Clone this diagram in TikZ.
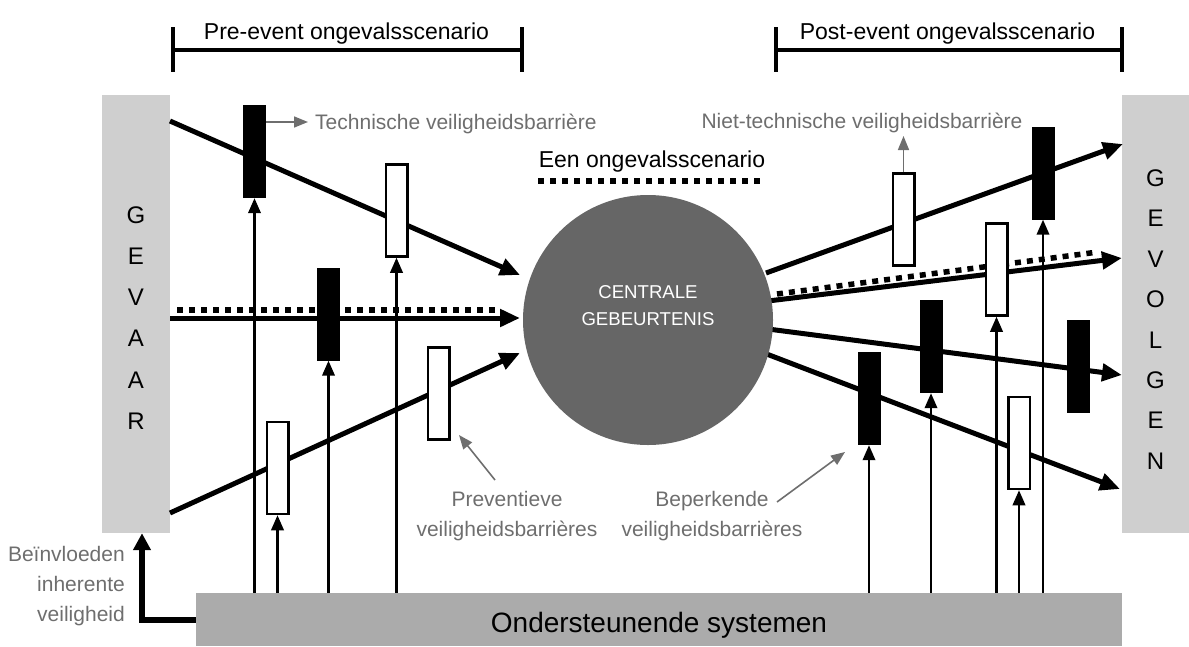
\documentclass[tikz,border=0pt]{standalone}
\usepackage{fontspec}
\setmainfont{Liberation Sans}
\usetikzlibrary{arrows.meta}
\definecolor{sidegray}{HTML}{CFCFCF}
\definecolor{sysgray}{HTML}{ABABAB}
\definecolor{circgray}{HTML}{666666}
\definecolor{annogray}{HTML}{6E6E6E}
\pgfdeclarelayer{back}
\pgfdeclarelayer{mid}
\pgfsetlayers{back,mid,main}
\begin{document}
\begin{tikzpicture}[x=1pt,y=-1pt,
  sidebox/.style={fill=sidegray, draw=none, inner sep=0pt, minimum width=68pt, minimum height=438pt},
  sysbox/.style={fill=sysgray, draw=none, inner sep=0pt, minimum width=926pt, minimum height=53pt},
  blackbar/.style={fill=black, draw=none, inner sep=0pt, minimum width=23pt, minimum height=93pt},
  whitebar/.style={fill=white, draw=black, line width=2.5pt, inner sep=0pt, minimum width=21.5pt, minimum height=92pt},
  thickarr/.style={line width=5pt, -{Triangle[length=20pt,width=17pt]}},
  thinarr/.style={line width=2.2pt, -{Triangle[length=15pt,width=12.5pt]}},
  grayarr/.style={draw=annogray, line width=1.6pt, -{Triangle[length=14pt,width=11pt]}},
  dotline/.style={line width=5.5pt, dash pattern=on 6pt off 6pt},
  bracketline/.style={line width=4pt},
  headtxt/.style={font=\fontsize{23}{27}\selectfont, inner sep=0pt},
  annot/.style={font=\fontsize{21}{30}\selectfont, text=annogray, inner sep=0pt},
  lettertxt/.style={inner sep=0pt, align=center}
]
\useasboundingbox (0,0) rectangle (1189,646);

% ---------- background boxes ----------
\begin{pgfonlayer}{back}
  \node[sidebox] (gevaar) at (136,314) {};
  \node[sidebox, minimum width=67pt] (gevolgen) at (1155.5,314) {};
  \node[sysbox] (sys) at (659,619.5) {};
\end{pgfonlayer}

% ---------- texts in boxes ----------
\node[lettertxt, font=\fontsize{24}{41.2}\selectfont] (gevaartxt) at (136,318) {G\\E\\V\\A\\A\\R};
\node[lettertxt, font=\fontsize{24}{40.4}\selectfont] (gevolgentxt) at (1155.5,319.5) {G\\E\\V\\O\\L\\G\\E\\N};
\node[anchor=base, inner sep=0pt, font=\fontsize{28}{32}\selectfont] (systxt) at (659,632) {Ondersteunende systemen};

% ---------- central event ----------
\node[circle, fill=circgray, draw=none, minimum size=250pt, inner sep=0pt] (ce) at (648,320) {};
\node[align=center, inner sep=0pt, text=white, font=\fontsize{18.6}{27}\selectfont] (cetxt) at (648,305.5) {CENTRALE\\GEBEURTENIS};

% ---------- brackets and headings ----------
\node[headtxt, anchor=base] (pre) at (346.5,39) {Pre-event ongevalsscenario};
\node[headtxt, anchor=base] (post) at (947.5,39) {Post-event ongevalsscenario};
\node[headtxt, anchor=base] (een) at (652,167) {Een ongevalsscenario};
\draw[bracketline] (173,27) -- (173,72);
\draw[bracketline] (173,50) -- (522,50);
\draw[bracketline] (522,27) -- (522,72);
\draw[bracketline] (776,27) -- (776,72);
\draw[bracketline] (776,50) -- (1122,50);
\draw[bracketline] (1122,27) -- (1122,72);
\draw[dotline] (538,181) -- (764,181);

% ---------- barriers ----------
\node[blackbar] (b1) at (254.5,151.5) {};
\node[whitebar] (b2) at (396.5,210.5) {};
\node[blackbar] (b3) at (328.5,314) {};
\node[whitebar] (b4) at (438.5,393.5) {};
\node[whitebar] (b5) at (277.5,468) {};

\node[whitebar] (ra) at (903.5,219.5) {};
\node[blackbar] (rb) at (869,398.5) {};
\node[blackbar] (rc) at (931,346.5) {};
\node[whitebar] (rd) at (996.5,269.5) {};
\node[whitebar] (re) at (1019,443) {};
\node[blackbar] (rf) at (1043,173) {};
\node[blackbar] (rg) at (1078.5,366) {};

% ---------- coordinates of free ends ----------
\coordinate (l1s) at (170,121);  \coordinate (l1e) at (520,275);
\coordinate (l2s) at (170,318);  \coordinate (l2e) at (520,318);
\coordinate (l3s) at (170,513);  \coordinate (l3e) at (520,353);
\coordinate (d1s) at (177,310);  \coordinate (d1e) at (498,310);
\coordinate (r1s) at (766,273);  \coordinate (r1e) at (1123,144);
\coordinate (r2s) at (768,301);  \coordinate (r2e) at (1122,258);
\coordinate (r3s) at (768,329);  \coordinate (r3e) at (1122,375);
\coordinate (r4s) at (764,353);  \coordinate (r4e) at (1120,489);
\coordinate (d2s) at (777,294);  \coordinate (d2e) at (1098,252);
\coordinate (infl) at (142,620);

% ---------- connectors ----------
\begin{pgfonlayer}{mid}
  \draw[thickarr] (l1s) -- (l1e);
  \draw[thickarr] (l2s) -- (l2e);
  \draw[thickarr] (l3s) -- (l3e);
  \draw[dotline] (d1s) -- (d1e);
  \draw[thickarr] (r1s) -- (r1e);
  \draw[thickarr] (r2s) -- (r2e);
  \draw[thickarr] (r3s) -- (r3e);
  \draw[thickarr] (r4s) -- (r4e);
  \draw[dotline] (d2s) -- (d2e);
  \foreach \b in {b1,b2,b3,b5,rb,rc,rd,re,rf}
    \draw[thinarr] (\b |- sys.north) -- (\b.south);
  \draw[line width=6pt, -{Triangle[length=17pt,width=17pt]}]
    (sys.west |- infl) -- (infl) -- (infl |- gevaar.south);
\end{pgfonlayer}

% ---------- annotations ----------
\node[annot, anchor=base west] (tech) at (315,129) {Technische veiligheidsbarrière};
\coordinate (techtip) at (308,122);
\draw[grayarr] (b1.east |- techtip) -- (techtip);

\node[annot, anchor=base] (niet) at (862,128) {Niet-technische veiligheidsbarrière};
\coordinate (niettip) at (903.5,136);
\draw[grayarr] (ra.north) -- (niettip);

\node[annot, align=center] (prev) at (507,516.5) {Preventieve\\veiligheidsbarrières};
\coordinate (prevs) at (495,480);
\coordinate (prevtip) at (459,435);
\draw[grayarr] (prevs) -- (prevtip);

\node[annot, align=center] (bep) at (712,516.5) {Beperkende\\veiligheidsbarrières};
\coordinate (beps) at (777,502);
\coordinate (beptip) at (845,452);
\draw[grayarr] (beps) -- (beptip);

\node[annot, align=right, anchor=east] (invl) at (125,586.5) {Beïnvloeden\\inherente\\veiligheid};
\end{tikzpicture}
\end{document}
